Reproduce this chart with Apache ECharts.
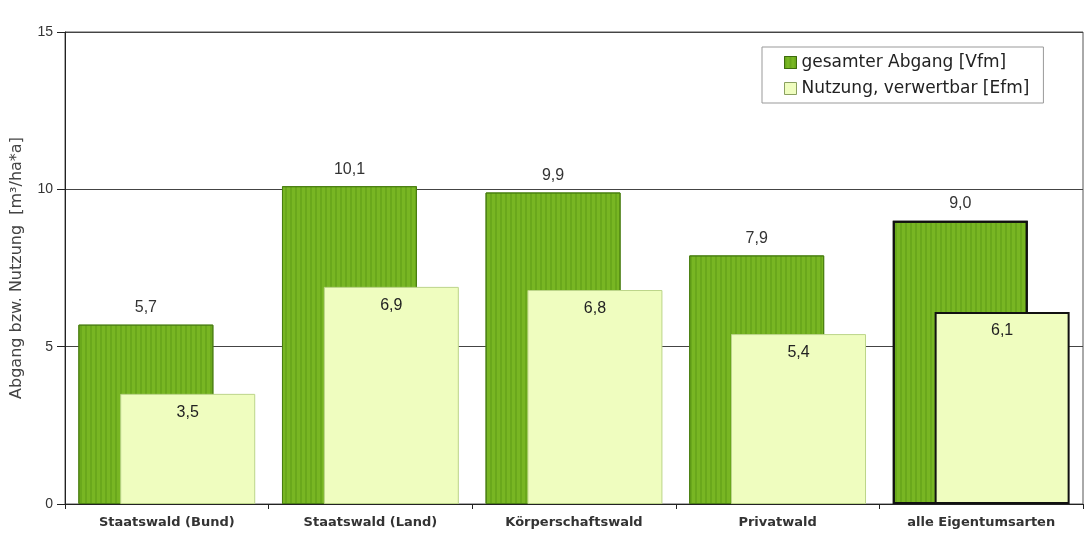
<!DOCTYPE html>
<html><head><meta charset="utf-8">
<script src="https://cdn.jsdelivr.net/npm/echarts@6/dist/echarts.min.js"></script>
<style>html,body{margin:0;padding:0;background:#fff}#c{width:1090px;height:536px}</style>
</head><body><div id="c"></div>
<script>
var categories = ['Staatswald (Bund)', 'Staatswald (Land)', 'Körperschaftswald', 'Privatwald', 'alle Eigentumsarten'];
var abgang = [5.7, 10.1, 9.9, 7.9, 9.0];
var nutzung = [3.5, 6.9, 6.8, 5.4, 6.1];
var seriesNames = ['gesamter Abgang [Vfm]', 'Nutzung, verwertbar [Efm]'];
var yTicks = [0, 5, 10, 15];

var darkColor = '#78b623';
var lightColor = '#effdbf';
var FONT = 'DejaVu Sans';
var ARIAL = 'Liberation Sans, Arial';
function fmt(p){ return p.value.toFixed(1).replace('.', ','); }
function items(arr, normalBorder){
  return arr.map(function(v, i){
    var last = i === arr.length - 1;
    return {value: v, itemStyle: {borderColor: last ? '#111' : normalBorder, borderWidth: last ? 2 : 1}};
  });
}
var chart = echarts.init(document.getElementById('c'));
chart.setOption({
  animation: false,
  grid: {left: 65, right: 7, top: 32, bottom: 32, show: true, borderColor: '#555', borderWidth: 1},
  legend: {
    orient: 'vertical', left: 762, top: 47,
    icon: 'rect',
    itemWidth: 12, itemHeight: 12, itemGap: 9,
    padding: [7, 14, 6, 22],
    borderColor: '#999', borderWidth: 1, backgroundColor: '#fff',
    textStyle: {fontFamily: FONT, fontSize: 17, lineHeight: 17, color: '#222'},
    data: [
      {name: seriesNames[0], itemStyle: {color: darkColor, borderColor: '#3d6b0c', borderWidth: 1}},
      {name: seriesNames[1], itemStyle: {color: lightColor, borderColor: '#8aa060', borderWidth: 1}}
    ]
  },
  xAxis: {
    type: 'category', data: categories,
    axisLine: {lineStyle: {color: '#222', width: 1}},
    axisTick: {show: true, length: 5, lineStyle: {color: '#222'}},
    axisLabel: {fontFamily: FONT, fontSize: 13, fontWeight: 'bold', color: '#333', margin: 12}
  },
  yAxis: {
    type: 'value', min: yTicks[0], max: yTicks[yTicks.length - 1], interval: 5,
    name: 'Abgang bzw. Nutzung  [m³/ha*a]', nameLocation: 'middle', nameGap: 40,
    nameTextStyle: {fontFamily: FONT, fontSize: 16, color: '#444'},
    axisLine: {show: true, lineStyle: {color: '#222'}},
    axisTick: {show: true, length: 8, lineStyle: {color: '#222'}},
    axisLabel: {fontFamily: ARIAL, fontSize: 14, color: '#333', margin: 12},
    splitLine: {lineStyle: {color: '#444', width: 1}}
  },
  series: [
    {
      name: seriesNames[0], type: 'bar', barWidth: 135, barGap: '-69%',
      data: items(abgang, '#4a7f12'),
      itemStyle: {color: darkColor, decal: {symbol: 'rect', color: 'rgba(50,110,0,0.2)', dashArrayX: [2, 3], dashArrayY: [1, 0], symbolSize: 1}},
      label: {show: true, position: 'top', distance: 9, formatter: fmt, fontFamily: ARIAL, fontSize: 16, color: '#333'}
    },
    {
      name: seriesNames[1], type: 'bar', barWidth: 135, barGap: '-69%',
      data: items(nutzung, '#bcd58a'),
      itemStyle: {color: lightColor},
      label: {show: true, position: 'insideTop', distance: 11, formatter: fmt, fontFamily: ARIAL, fontSize: 16, color: '#222'}
    }
  ]
});
</script></body></html>
